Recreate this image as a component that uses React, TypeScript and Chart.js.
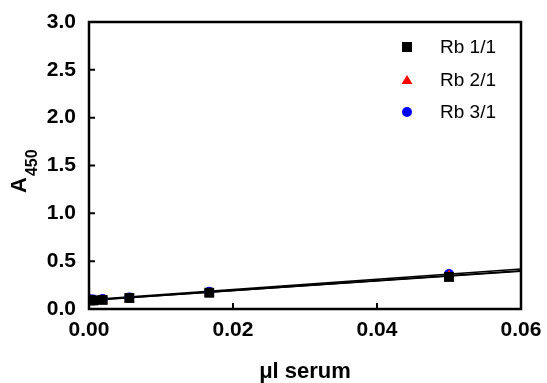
import React, { useEffect, useRef } from "react";
import { Chart, registerables } from "chart.js";

Chart.register(...registerables);

const seriesNames = ["Rb 1/1", "Rb 2/1", "Rb 3/1"];
const seriesColors = ["#000000", "#ff0000", "#0000ff"];
const seriesStyles = ["rect", "triangle", "circle"];
const serumX = [0.00007, 0.0002, 0.0006, 0.0019, 0.0056, 0.0167, 0.05];
const rb11 = [0.095, 0.09, 0.09, 0.095, 0.115, 0.17, 0.335];
const rb21 = [0.09, 0.085, 0.085, 0.09, 0.105, 0.165, 0.35];
const rb31 = [0.1, 0.1, 0.1, 0.105, 0.12, 0.18, 0.365];
const fitX = [0, 0.06];
const fit11 = [0.092, 0.395];
const fit21 = [0.09, 0.4];
const fit31 = [0.095, 0.418];
const xTicks = [0, 0.02, 0.04, 0.06];
const yTicks = [0, 0.5, 1, 1.5, 2, 2.5, 3];

const FONT = "'Liberation Sans', Arial, sans-serif";

const framePlugin = {
  id: "frameAndLegend",
  afterDraw(chart: any) {
    const { ctx, chartArea } = chart;
    const { left, right, top, bottom } = chartArea;
    const xs = chart.scales.x;
    const ys = chart.scales.y;
    ctx.save();
    ctx.strokeStyle = "#000";
    ctx.lineWidth = 2.5;
    ctx.strokeRect(left, top, right - left, bottom - top);
    ctx.lineWidth = 2;
    ctx.beginPath();
    for (const v of xTicks) {
      const px = xs.getPixelForValue(v);
      ctx.moveTo(px, bottom);
      ctx.lineTo(px, bottom - 6);
    }
    for (const v of yTicks) {
      const py = ys.getPixelForValue(v);
      ctx.moveTo(left, py);
      ctx.lineTo(left + 6, py);
    }
    ctx.stroke();

    // legend
    const rowsY = [47, 80, 112];
    const mx = 407;
    ctx.textAlign = "left";
    ctx.textBaseline = "middle";
    ctx.font = `19px ${FONT}`;
    seriesNames.forEach((name, i) => {
      const y = rowsY[i];
      ctx.fillStyle = seriesColors[i];
      ctx.beginPath();
      if (seriesStyles[i] === "rect") {
        ctx.rect(mx - 5, y - 5, 10, 10);
      } else if (seriesStyles[i] === "triangle") {
        ctx.moveTo(mx, y - 5);
        ctx.lineTo(mx + 5.5, y + 4);
        ctx.lineTo(mx - 5.5, y + 4);
        ctx.closePath();
      } else {
        ctx.arc(mx, y, 5, 0, Math.PI * 2);
      }
      ctx.fill();
      ctx.fillStyle = "#000";
      ctx.fillText(name, 440, y + 1);
    });

    // y axis title A450
    ctx.translate(26, 193);
    ctx.rotate(-Math.PI / 2);
    ctx.textBaseline = "alphabetic";
    ctx.fillStyle = "#000";
    ctx.font = `bold 22px ${FONT}`;
    ctx.fillText("A", 0, 0);
    const w = ctx.measureText("A").width;
    ctx.font = `bold 16px ${FONT}`;
    ctx.fillText("450", w + 1, 11);
    ctx.restore();
  },
};

export default function App() {
  const ref = useRef<HTMLCanvasElement | null>(null);
  useEffect(() => {
    if (!ref.current) return;
    const pts = (ys: number[]) => serumX.map((x, i) => ({ x, y: ys[i] }));
    const line = (ys: number[]) => fitX.map((x, i) => ({ x, y: ys[i] }));
    const radii = [7, 6, 5];
    const pointSets = [rb11, rb21, rb31].map((d, i) => ({
      label: seriesNames[i],
      data: pts(d),
      showLine: false,
      pointStyle: seriesStyles[i],
      pointRadius: radii[i],
      pointBackgroundColor: seriesColors[i],
      pointBorderColor: seriesColors[i],
      pointBorderWidth: 0,
    }));
    const lineSets = [fit11, fit21, fit31].map((d, i) => ({
      label: "fit " + seriesNames[i],
      data: line(d),
      showLine: true,
      pointRadius: 0,
      borderColor: "#000",
      borderWidth: 1.6,
      fill: false,
    }));
    const chart = new Chart(ref.current, {
      type: "scatter",
      data: { datasets: [...pointSets, ...lineSets] as any },
      options: {
        responsive: false,
        animation: false,
        layout: { padding: { left: 0, top: 22, right: 26, bottom: 0 } },
        plugins: { legend: { display: false }, tooltip: { enabled: false } },
        scales: {
          x: {
            type: "linear",
            min: 0,
            max: 0.06,
            afterBuildTicks: (s: any) => {
              s.ticks = xTicks.map((v) => ({ value: v }));
            },
            afterFit: (s: any) => {
              s.height = 74;
            },
            ticks: {
              color: "#000",
              padding: 1,
              font: { family: FONT, size: 21, weight: "bold" },
              callback: (v: any) => Number(v).toFixed(2),
            },
            grid: { display: false },
            border: { display: false },
            title: {
              display: true,
              text: "μl serum",
              color: "#000",
              font: { family: FONT, size: 22, weight: "bold", lineHeight: 1 },
              padding: { top: 0, bottom: 0 },
            },
          },
          y: {
            type: "linear",
            min: 0,
            max: 3,
            afterBuildTicks: (s: any) => {
              s.ticks = yTicks.map((v) => ({ value: v }));
            },
            afterFit: (s: any) => {
              s.width = 89;
            },
            ticks: {
              color: "#000",
              padding: 5,
              font: { family: FONT, size: 21, weight: "bold" },
              callback: (v: any) => Number(v).toFixed(1),
            },
            grid: { display: false },
            border: { display: false },
          },
        },
      },
      plugins: [framePlugin],
    });
    return () => chart.destroy();
  }, []);
  return (
    <div style={{ position: "fixed", left: 0, top: 0, width: 547, height: 383, background: "#fff" }}>
      <canvas ref={ref} width={547} height={383} />
    </div>
  );
}
